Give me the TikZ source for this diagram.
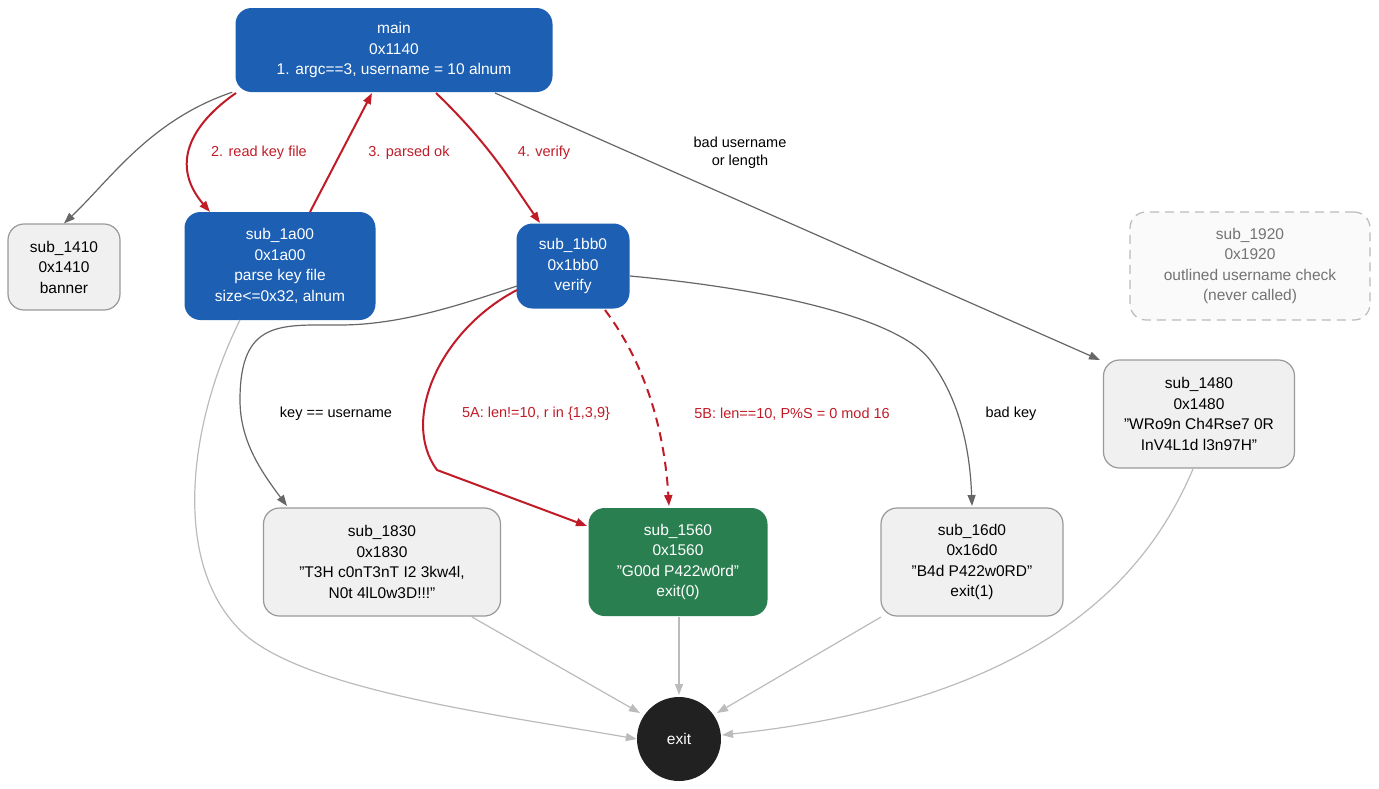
\documentclass[tikz,border=0pt]{standalone}
\usepackage{fontspec}
\setmainfont{Liberation Sans}
\usetikzlibrary{arrows.meta}
\definecolor{cblue}{HTML}{1C5FB3}
\definecolor{cgreen}{HTML}{2A7F50}
\definecolor{cred}{HTML}{C01C28}
\definecolor{cgray}{HTML}{666666}
\definecolor{clight}{HTML}{BBBBBB}
\definecolor{cbox}{HTML}{F0F0F0}
\definecolor{cborder}{HTML}{999999}
\tikzset{
 x=1pt,y=-1pt,
 every node/.style={font=\fontsize{15.5}{20.5}\selectfont,align=center},
 box/.style={rectangle,rounded corners=16pt,inner sep=0pt},
 plain/.style={box,fill=cbox,draw=cborder,line width=1.2pt,text=black},
 blue/.style={box,fill=cblue,text=white},
 green/.style={box,fill=cgreen,text=white},
 tip/.style={-{Triangle[length=11pt,width=8pt]}},
 ge/.style={tip,draw=cgray,line width=1.2pt},
 le/.style={tip,draw=clight,line width=1.2pt},
 re/.style={tip,draw=cred,line width=2pt},
 rl/.style={text=cred,font=\fontsize{14.5}{18}\selectfont},
 gl/.style={text=black,font=\fontsize{14.5}{18}\selectfont},
}
\begin{document}
\begin{tikzpicture}
\useasboundingbox (0,0) rectangle (1379,788);
\node[blue,minimum width=317pt,minimum height=84pt] (main) at (394,50) {main\\0x1140\\1. argc==3, username = 10 alnum};
\node[plain,minimum width=112pt,minimum height=86pt] (s1410) at (64,267) {sub\_1410\\0x1410\\banner};
\node[blue,minimum width=191pt,minimum height=108pt] (s1a00) at (280,266) {sub\_1a00\\0x1a00\\parse key file\\size<=0x32, alnum};
\node[blue,minimum width=113pt,minimum height=85pt] (s1bb0) at (573,266) {sub\_1bb0\\0x1bb0\\verify};
\node[box,fill=black!2,draw=clight,dashed,dash pattern=on 9pt off 6pt,line width=1.2pt,text=black!55,minimum width=240pt,minimum height=108pt] (s1920) at (1250,266) {sub\_1920\\0x1920\\outlined username check\\(never called)};
\node[plain,minimum width=191pt,minimum height=108pt] (s1480) at (1199,414) {sub\_1480\\0x1480\\"WRo9n Ch4Rse7 0R\\InV4L1d l3n97H"};
\node[plain,minimum width=237pt,minimum height=108pt] (s1830) at (382,562) {sub\_1830\\0x1830\\"T3H c0nT3nT I2 3kw4l,\\N0t 4lL0w3D!!!"};
\node[green,minimum width=179pt,minimum height=108pt] (s1560) at (678,562) {sub\_1560\\0x1560\\"G00d P422w0rd"\\exit(0)};
\node[plain,minimum width=182pt,minimum height=108pt] (s16d0) at (972,562) {sub\_16d0\\0x16d0\\"B4d P422w0RD"\\exit(1)};
\node[circle,fill=black!87,text=white,minimum size=84pt,inner sep=0pt] (exit) at (679,739) {exit};

\draw[ge] (main.south west)++(-3,0) .. controls (150,120) and (110,180) .. (s1410.north);
\draw[re] (236,93) .. controls (190,125) and (170,165) .. (210,212);
\draw[re] (310,212) -- (372,93);
\draw[re] (436,93) .. controls (490,145) and (510,180) .. (540,223);
\draw[ge] (495,93) -- (1100,360);
\draw[le] (240,320) .. controls (190,420) and (170,560) .. (240,630) .. controls (300,690) and (500,715) .. (exit.west);
\draw[ge] (517,286) .. controls (460,305) and (400,325) .. (340,325) .. controls (280,325) and (240,320) .. (240,400) .. controls (240,440) and (260,470) .. (287,506);
\draw[re] (517,290) .. controls (440,330) and (400,420) .. (437,470) -- (587,526);
\draw[re,dashed,dash pattern=on 9pt off 6pt] (605,310) .. controls (650,370) and (665,440) .. (669,506);
\draw[ge] (630,276) .. controls (780,290) and (900,320) .. (930,360) .. controls (960,400) and (970,450) .. (972,506);
\draw[le] (1193,469) .. controls (1150,570) and (1050,700) .. (722,735);
\draw[le] (472,617) -- (640,713);
\draw[le] (679,617) -- (679,695);
\draw[le] (881,617) -- (717,713);

\node[rl] (l2) at (259,153) {2. read key file};
\node[rl] (l3) at (409,153) {3. parsed ok};
\node[rl] (l4) at (544,153) {4. verify};
\node[gl,align=center] (lbu) at (740,153) {bad username\\or length};
\node[gl] (lku) at (336,414) {key == username};
\node[rl] (l5a) at (536,414) {5A: len!=10, r in \{1,3,9\}};
\node[rl] (l5b) at (792,414) {5B: len==10, P\%S = 0 mod 16};
\node[gl] (lbk) at (1011,414) {bad key};
\end{tikzpicture}
\end{document}
